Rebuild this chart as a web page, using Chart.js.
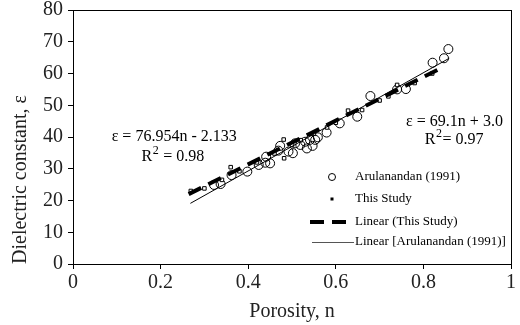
<!DOCTYPE html>
<html>
<head>
<meta charset="utf-8">
<script src="https://cdn.jsdelivr.net/npm/chart.js@4.4.1/dist/chart.umd.min.js"></script>
<style>
  html, body { margin: 0; padding: 0; background: #fff; }
  #wrap { width: 520px; height: 325px; position: relative; }
</style>
</head>
<body>
<div id="wrap"><canvas id="dielectric"></canvas></div>
<script>
// porosity / dielectric constant
var aruPorosity = [0.322, 0.337, 0.362, 0.398, 0.424, 0.439, 0.450, 0.441, 0.469, 0.473,
                   0.492, 0.502, 0.507, 0.519, 0.530, 0.541, 0.553, 0.534, 0.547, 0.559,
                   0.579, 0.609, 0.649, 0.679, 0.740, 0.760, 0.821, 0.847, 0.857];
var aruEpsilon  = [24.9, 25.2, 28.0, 29.1, 31.2, 31.9, 31.7, 33.8, 35.7, 37.2,
                   35.4, 34.9, 38.0, 37.5, 38.5, 39.1, 39.1, 36.4, 37.2, 39.9,
                   41.4, 44.3, 46.4, 52.9, 55.0, 55.1, 63.4, 64.8, 67.7];

var studyPorosity = [0.269, 0.300, 0.340, 0.360, 0.380, 0.420, 0.460, 0.481, 0.482, 0.500,
                     0.520, 0.550, 0.580, 0.600, 0.628, 0.660, 0.700, 0.720, 0.740, 0.780, 0.820];
var studyEpsilon  = [23.0, 23.8, 26.5, 30.5, 29.2, 32.0, 34.8, 39.2, 33.3, 37.5,
                     39.0, 41.0, 43.0, 44.5, 48.3, 48.5, 51.5, 52.8, 56.4, 57.0, 60.0];

// end points of the two fitted lines
var fitStudyPorosity = [0.264, 0.846];
var fitStudyEpsilon  = [22.0, 62.1];
var fitAruPorosity   = [0.268, 0.859];
var fitAruEpsilon    = [19.1, 64.8];

var xTicks = [0, 0.2, 0.4, 0.6, 0.8, 1];
var yTicks = [0, 10, 20, 30, 40, 50, 60, 70, 80];

var legendLabels = ["Arulanandan (1991)", "This Study", "Linear (This Study)", "Linear [Arulanandan (1991)]"];

var serif = "'Liberation Serif', 'Times New Roman', serif";

function toPoints(xs, ys){
    var pts = [];
    for (var i = 0; i < xs.length; i++){
        pts.push({x: xs[i], y: ys[i]});
    }
    return pts;
}

// box round the plot area
var frame = {
    id: "frame",
    afterDraw: function(chart){
        var a = chart.chartArea, ctx = chart.ctx;
        ctx.save();
        ctx.strokeStyle = "#000";
        ctx.lineWidth = 1;
        ctx.strokeRect(Math.round(a.left) + 0.5, Math.round(a.top) + 0.5,
                       Math.round(a.right - a.left), Math.round(a.bottom - a.top));
        ctx.restore();
    }
};

// regression equations, anchored in data space
function drawR2(ctx, cx, cy, value, gap){
    ctx.font = "16px " + serif;
    var wR = ctx.measureText("R").width;
    var rest = (gap ? " " : "") + "= " + value;
    var wRest = ctx.measureText(rest).width;
    ctx.font = "12px " + serif;
    var w2 = ctx.measureText("2").width;
    var x = cx - (wR + w2 + wRest) / 2;
    ctx.textAlign = "left";
    ctx.font = "16px " + serif;
    ctx.fillText("R", x, cy);
    ctx.font = "12px " + serif;
    ctx.fillText("2", x + wR + 0.5, cy - 6);
    ctx.font = "16px " + serif;
    ctx.fillText(rest, x + wR + w2 + 1, cy);
}

var equations = {
    id: "equations",
    afterDraw: function(chart){
        var ctx = chart.ctx, xs = chart.scales.x, ys = chart.scales.y;
        ctx.save();
        ctx.fillStyle = "#000";
        ctx.textBaseline = "middle";
        ctx.textAlign = "center";
        ctx.font = "16px " + serif;
        ctx.fillText("\u03b5 = 76.954n - 2.133", xs.getPixelForValue(0.231), ys.getPixelForValue(40.0));
        drawR2(ctx, xs.getPixelForValue(0.227), ys.getPixelForValue(33.7), "0.98", true);
        ctx.textAlign = "center";
        ctx.fillText("\u03b5 = 69.1n + 3.0", xs.getPixelForValue(0.871), ys.getPixelForValue(44.7));
        drawR2(ctx, xs.getPixelForValue(0.869), ys.getPixelForValue(39.1), "0.97", false);
        ctx.restore();
    }
};

// legend inside the plot, bottom right
var innerLegend = {
    id: "innerLegend",
    afterDraw: function(chart){
        var ctx = chart.ctx, a = chart.chartArea;
        var textX = a.right - 156;
        var markX = a.right - 179;
        var rows = [a.top + 167, a.top + 189, a.top + 212, a.top + 232];
        ctx.save();
        ctx.fillStyle = "#000";
        ctx.strokeStyle = "#000";
        ctx.font = "13px " + serif;
        ctx.textAlign = "left";
        ctx.textBaseline = "middle";
        for (var i = 0; i < legendLabels.length; i++){
            ctx.fillText(legendLabels[i], textX, rows[i]);
        }
        ctx.lineWidth = 1;
        ctx.beginPath();
        ctx.arc(markX, rows[0], 3.5, 0, Math.PI * 2);
        ctx.stroke();
        ctx.fillRect(markX - 1.5, rows[1] - 1.5, 3, 3);
        ctx.lineWidth = 4;
        ctx.setLineDash([14, 8]);
        ctx.beginPath();
        ctx.moveTo(textX - 45, rows[2]);
        ctx.lineTo(textX - 2, rows[2]);
        ctx.stroke();
        ctx.setLineDash([]);
        ctx.lineWidth = 1;
        ctx.strokeStyle = "#555";
        ctx.beginPath();
        ctx.moveTo(textX - 43, rows[3] + 0.5);
        ctx.lineTo(textX - 1, rows[3] + 0.5);
        ctx.stroke();
        ctx.restore();
    }
};

var tickFont = {family: serif, size: 20, lineHeight: 1.0};
var titleFont = {family: serif, size: 20, lineHeight: 1.2};

new Chart(document.getElementById("dielectric"), {
    type: "scatter",
    data: {
        datasets: [
            {
                label: "Linear (This Study)",
                type: "line",
                data: toPoints(fitStudyPorosity, fitStudyEpsilon),
                borderColor: "#000",
                borderWidth: 4,
                borderDash: [14, 8],
                pointRadius: 0,
                fill: false,
                order: 1
            },
            {
                label: "Linear [Arulanandan (1991)]",
                type: "line",
                data: toPoints(fitAruPorosity, fitAruEpsilon),
                borderColor: "#000",
                borderWidth: 1,
                pointRadius: 0,
                fill: false,
                order: 2
            },
            {
                label: "This Study",
                data: toPoints(studyPorosity, studyEpsilon),
                pointStyle: "rect",
                pointRadius: 2.5,
                borderColor: "#000",
                borderWidth: 1,
                backgroundColor: "#fff",
                order: 3
            },
            {
                label: "Arulanandan (1991)",
                data: toPoints(aruPorosity, aruEpsilon),
                pointStyle: "circle",
                pointRadius: 4.5,
                borderColor: "#000",
                borderWidth: 1,
                backgroundColor: "rgba(255,255,255,0)",
                order: 4
            }
        ]
    },
    options: {
        responsive: true,
        maintainAspectRatio: false,
        animation: false,
        layout: {padding: {top: 10, right: 5, left: 0, bottom: 0}},
        plugins: {
            legend: {display: false},
            tooltip: {enabled: false}
        },
        scales: {
            x: {
                type: "linear",
                min: xTicks[0],
                max: xTicks[xTicks.length - 1],
                afterBuildTicks: function(scale){
                    scale.ticks = xTicks.map(function(v){ return {value: v}; });
                },
                afterFit: function(scale){ scale.height = 61; },
                grid: {display: true, drawOnChartArea: false, drawTicks: true, tickLength: 5, color: "#000"},
                border: {display: true, color: "#000", width: 1},
                ticks: {color: "#222", font: tickFont, padding: 4, maxRotation: 0,
                        callback: function(v){ return String(v); }},
                title: {display: true, text: "Porosity, n", color: "#222",
                        font: titleFont, padding: {top: 0, bottom: 1}}
            },
            y: {
                type: "linear",
                min: yTicks[0],
                max: yTicks[yTicks.length - 1],
                afterBuildTicks: function(scale){
                    scale.ticks = yTicks.map(function(v){ return {value: v}; });
                },
                afterFit: function(scale){
                    scale.width = 73;
                    scale.paddingTop = 0;
                    scale.paddingBottom = 0;
                },
                grid: {display: true, drawOnChartArea: false, drawTicks: true, tickLength: 5, color: "#000"},
                border: {display: true, color: "#000", width: 1},
                ticks: {color: "#222", font: tickFont, padding: 5},
                title: {display: true, text: "Dielectric constant, \u03b5", color: "#222", align: "start",
                        font: titleFont, padding: {top: 9, bottom: 0}}
            }
        }
    },
    plugins: [frame, equations, innerLegend]
});
</script>
</body>
</html>
